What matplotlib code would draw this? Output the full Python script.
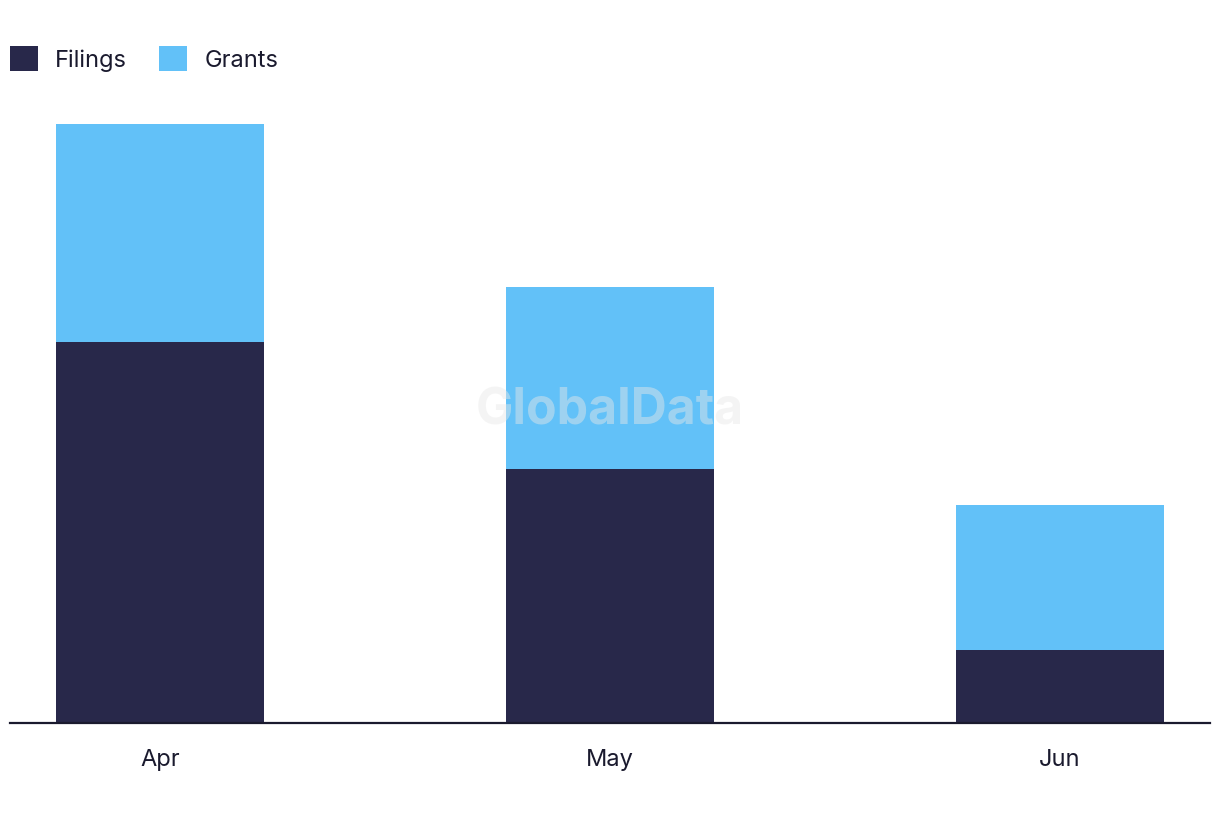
import numpy as np
import matplotlib.pyplot as plt

plt.rcParams['font.family'] = ['Inter', 'DejaVu Sans']

# Data
months = ["Apr", "May", "Jun"]
filings = [21, 14, 4]
grants = [12, 10, 8]

dark = "#28284a"
light = "#62c1f8"

fig = plt.figure(figsize=(12.2, 8.22), dpi=100)
ax = fig.add_axes([10/1220, 99/822, 1200/1220, 599/822])

x = np.arange(len(months))
ax.bar(x, filings, width=0.462, color=dark, label="Filings")
ax.bar(x, grants, width=0.462, bottom=filings, color=light, label="Grants")

ax.set_xlim(-0.333, 2.333)
ax.set_ylim(0, 33)
ax.set_xticks(x)
ax.set_xticklabels(months, fontsize=17, color="#1a1a2e")
ax.tick_params(axis='x', length=0, pad=19)
ax.set_yticks([])
for s in ['top', 'right', 'left']:
    ax.spines[s].set_visible(False)
ax.spines['bottom'].set_color("#1a1a2e")
ax.spines['bottom'].set_linewidth(1.6)

# watermark
fig.text(0.5, 0.5, "GlobalData", fontsize=36, fontweight='bold',
         color="#e8e8e8", alpha=0.45, ha='center', va='center')

fig.legend(loc='center left', bbox_to_anchor=(10/1220, 1 - 59/822), ncol=2, frameon=False,
           fontsize=17, handlelength=1.2, handleheight=1.2, handletextpad=0.72,
           columnspacing=1.35, borderaxespad=0, borderpad=0, labelcolor="#1a1a2e")

plt.savefig("out.png", dpi=100)
